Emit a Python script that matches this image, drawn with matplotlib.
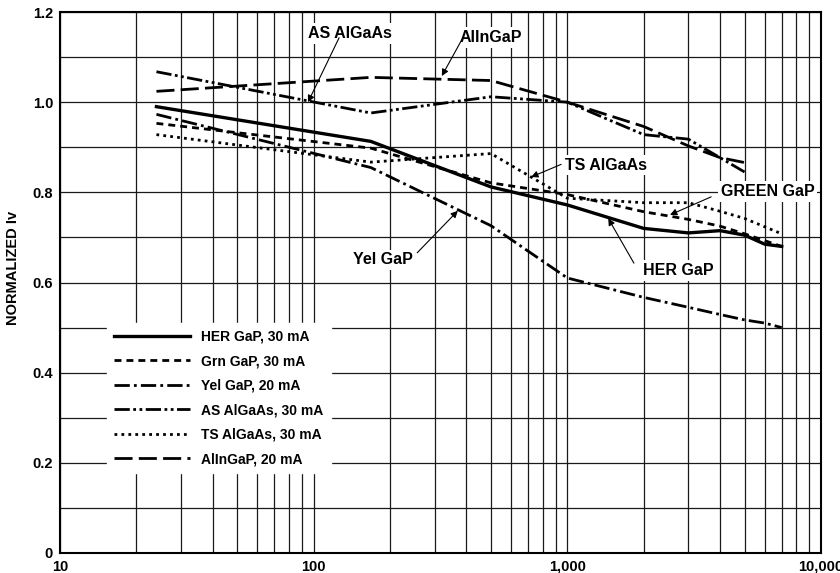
import matplotlib
matplotlib.use("Agg")
import matplotlib.pyplot as plt
from matplotlib.ticker import FixedLocator, MultipleLocator, NullFormatter

plt.rcParams['font.family'] = ['Liberation Sans', 'DejaVu Sans']
plt.rcParams['font.weight'] = 'bold'
plt.rcParams['lines.scale_dashes'] = False

# hours
her_x = [24, 168, 500, 1000, 2000, 3000, 4000, 5000, 6000, 7000]
her_y = [0.99, 0.913, 0.812, 0.772, 0.72, 0.71, 0.715, 0.705, 0.685, 0.68]

grn_x = [24, 168, 500, 1000, 2000, 3000, 4000, 5000, 7000]
grn_y = [0.953, 0.898, 0.821, 0.795, 0.757, 0.74, 0.725, 0.708, 0.68]

yel_x = [24, 168, 500, 1000, 2000, 3000, 4000, 5000, 6000, 7000]
yel_y = [0.973, 0.855, 0.726, 0.61, 0.567, 0.545, 0.529, 0.517, 0.51, 0.50]

as_x = [24, 168, 500, 1000, 2000, 3000, 5000]
as_y = [1.0675, 0.976, 1.012, 1.0, 0.928, 0.918, 0.845]

ts_x = [24, 168, 500, 1000, 2000, 3000, 4000, 5000, 7000]
ts_y = [0.928, 0.867, 0.886, 0.787, 0.777, 0.777, 0.758, 0.742, 0.708]

aln_x = [24, 168, 500, 1000, 2000, 3000, 4000, 5000]
aln_y = [1.024, 1.055, 1.048, 1.0, 0.946, 0.903, 0.877, 0.866]

x_ticks = [10, 100, 1000, 10000]
x_labels = ['10', '100', '1,000', '10,000']
y_ticks = [0, 0.2, 0.4, 0.6, 0.8, 1.0, 1.2]
y_labels = ['0', '0.2', '0.4', '0.6', '0.8', '1.0', '1.2']

fig = plt.figure(figsize=(8.4, 5.73), dpi=100)
ax = fig.add_axes([60 / 840, 20 / 573, 761 / 840, 541 / 573])

lw = 2.0
ax.plot(her_x, her_y, color='black', lw=2.4, ls='-', label='HER GaP, 30 mA', zorder=3)
ax.plot(grn_x, grn_y, color='black', lw=lw, ls=(0, (5, 3.6)), label='Grn GaP, 30 mA', zorder=3)
ax.plot(yel_x, yel_y, color='black', lw=lw, ls=(0, (11, 3, 2, 3)), label='Yel GaP, 20 mA', zorder=3)
ax.plot(as_x, as_y, color='black', lw=lw, ls=(0, (11, 2.5, 2, 2.5, 2, 2.5)),
        label='AS AlGaAs, 30 mA', zorder=3)
ax.plot(ts_x, ts_y, color='black', lw=lw, ls=(0, (2, 3)), label='TS AlGaAs, 30 mA', zorder=3)
ax.plot(aln_x, aln_y, color='black', lw=lw, ls=(0, (13, 4.5)), label='AlInGaP, 20 mA', zorder=3)

ax.set_xscale('log')
ax.set_xlim(10, 10000)
ax.set_ylim(0, 1.2)
ax.xaxis.set_major_locator(FixedLocator(x_ticks))
ax.set_xticks(x_ticks)
ax.set_xticklabels(x_labels)
ax.xaxis.set_minor_formatter(NullFormatter())
ax.set_yticks(y_ticks)
ax.set_yticklabels(y_labels)
ax.yaxis.set_minor_locator(MultipleLocator(0.1))
ax.tick_params(which='both', length=0, labelsize=10.5, pad=5)
ax.grid(which='both', color='#1a1a1a', lw=0.9, zorder=0)
for s in ax.spines.values():
    s.set_linewidth(1.5)
ax.set_ylabel('NORMALIZED Iv', fontsize=10.5, fontweight='bold')
ax.yaxis.set_label_coords(-0.052, 0.527)

leg = ax.legend(loc='upper left', bbox_to_anchor=(0.0526, 0.438), fontsize=10,
                handlelength=5.5, handletextpad=0.8, labelspacing=0.75,
                frameon=True, fancybox=False, borderpad=0.5)
leg.get_frame().set_edgecolor('white')
leg.get_frame().set_facecolor('white')
leg.get_frame().set_alpha(1)
leg.set_zorder(5)

box = dict(facecolor='white', edgecolor='none', pad=2)
arrow = dict(arrowstyle='-|>', color='black', lw=0.8, mutation_scale=10,
             shrinkA=0, shrinkB=0)
notes = [
    ('AS AlGaAs', (95, 1.0), (139, 1.152), (126, 1.143)),
    ('AllnGaP', (320, 1.058), (500, 1.143), (385, 1.14)),
    ('TS AlGaAs', (720, 0.834), (1425, 0.86), (945, 0.862)),
    ('GREEN GaP', (2540, 0.75), (6156, 0.802), (3690, 0.79)),
    ('HER GaP', (1450, 0.742), (2740, 0.627), (1830, 0.643)),
    ('Yel GaP', (370, 0.759), (187, 0.65), (256, 0.666)),
]
for text, tip, pos, tail in notes:
    ax.text(pos[0], pos[1], text, ha='center', va='center', fontsize=11.5,
            fontweight='bold', bbox=box, zorder=6)
    ax.annotate('', xy=tip, xytext=tail, arrowprops=arrow, zorder=6)

fig.savefig('out.png', dpi=100)
